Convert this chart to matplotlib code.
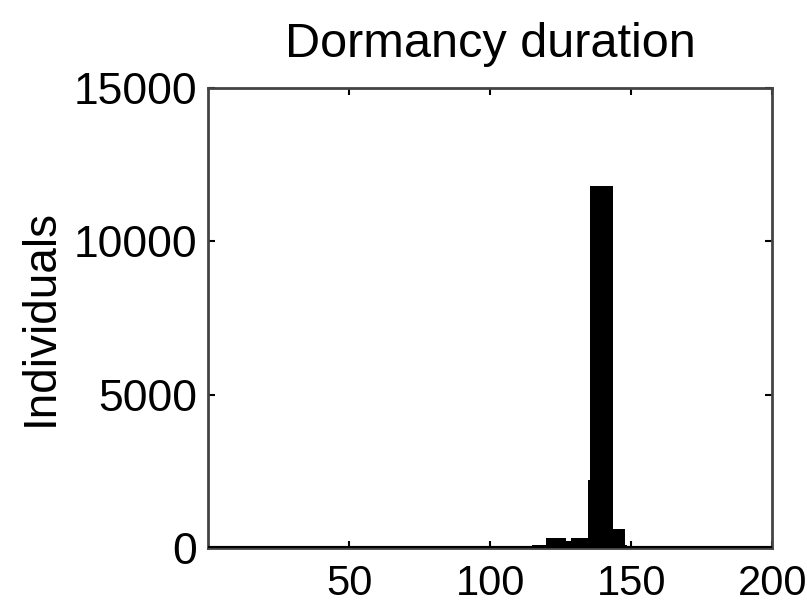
import numpy as np
import matplotlib.pyplot as plt

# ---- DATA ----
bin_edges = [0, 114.7, 119.9, 126.9, 128.7, 134.6, 135.3, 143.4, 147.6, 148.6, 200]
counts = [0, 100, 330, 230, 330, 2200, 11800, 620, 100, 0]
x_ticks = [50, 100, 150, 200]
y_ticks = [0, 5000, 10000, 15000]

plt.rcParams['font.family'] = ['Liberation Sans', 'DejaVu Sans']

fig = plt.figure(figsize=(8.07, 6.06), dpi=100)
ax = fig.add_axes([0.258, 0.096, 0.699, 0.759])

edges = np.array(bin_edges)
ax.bar(edges[:-1], counts, width=np.diff(edges), align='edge',
       color='black', edgecolor='black', linewidth=0)
# zero-height bins show as a thick line along the baseline
ax.plot([edges[0], edges[-1]], [0, 0], color='black', linewidth=3, zorder=3)

ax.set_xlim(0, 200)
ax.set_ylim(0, 15000)
ax.set_xticks(x_ticks)
ax.set_yticks(y_ticks)
ax.tick_params(direction='in', length=5, width=1.5, labelsize=32,
               top=True, right=True)
ax.tick_params(axis='x', pad=12, labelsize=30)
ax.tick_params(axis='y', pad=8)
for s in ax.spines.values():
    s.set_linewidth(2)
    s.set_color('#444444')

ax.set_title('Dormancy duration', fontsize=35, pad=22)
ax.set_ylabel('Individuals', fontsize=33, labelpad=8)

plt.savefig('out.png', dpi=100)
plt.close()
